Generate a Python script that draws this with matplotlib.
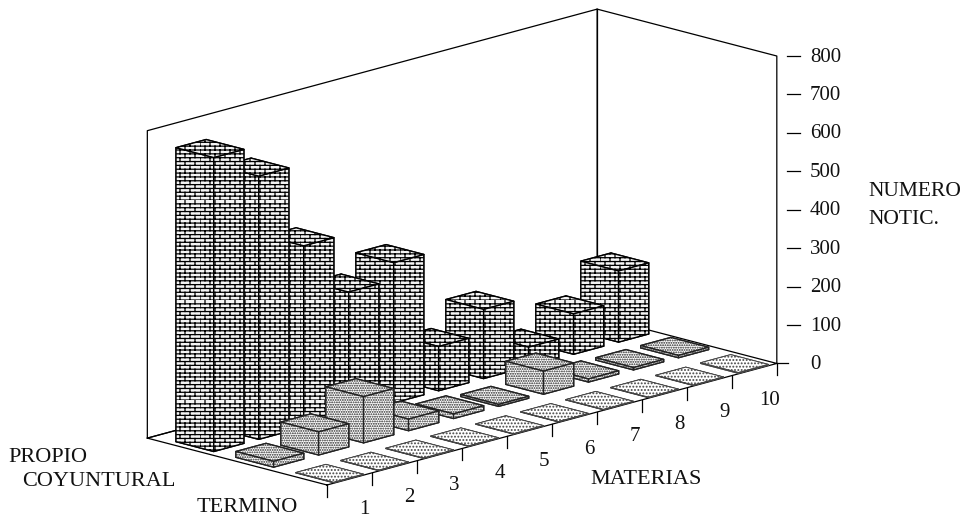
import warnings
import numpy as np
import matplotlib
matplotlib.use('Agg')
import matplotlib.pyplot as plt
from matplotlib import hatch as mhatch
from matplotlib.lines import Line2D
from matplotlib.path import Path
from matplotlib.transforms import IdentityTransform
from mpl_toolkits.mplot3d import proj3d

warnings.filterwarnings("ignore")

W, H = 969, 519

# datos
materias = [1, 2, 3, 4, 5, 6, 7, 8, 9, 10]
terminos = ['TERMINO', 'COYUNTURAL', 'PROPIO']
valores_termino = [1, 1, 1, 1, 1, 1, 1, 1, 1, 2]
valores_coyuntural = [15, 60, 120, 30, 12, 5, 60, 8, 6, 6]
valores_propio = [765, 685, 472, 320, 365, 115, 180, 50, 105, 185]
z_ticks = [0, 100, 200, 300, 400, 500, 600, 700, 800]


class Ladrillos(mhatch.HatchPatternBase):
    # trama de ladrillos, 'b' en la cadena de hatch
    filas, cols = 26, 10

    def __init__(self, hatch, density):
        self.activo = 'b' in hatch
        self.num_vertices = (self.filas + self.filas * self.cols) * 2 if self.activo else 0

    def set_vertices_and_codes(self, vertices, codes):
        if not self.activo:
            return
        segs = []
        for f in range(self.filas):
            y0 = f / self.filas
            y1 = (f + 1) / self.filas
            segs.append(((0, y0), (1, y0)))
            off = 0.5 / self.cols if f % 2 else 0
            for c in range(self.cols):
                x = c / self.cols + off
                segs.append(((x, y0), (x, y1)))
        vertices[:] = np.array(segs).reshape(-1, 2)
        codes[0::2] = Path.MOVETO
        codes[1::2] = Path.LINETO


mhatch._hatch_types.append(Ladrillos)

plt.rcParams['font.family'] = ['Liberation Serif', 'DejaVu Serif']
plt.rcParams['hatch.linewidth'] = 0.9
plt.rcParams['hatch.color'] = 'black'

fig = plt.figure(figsize=(W / 100, H / 100), dpi=100)
ax = fig.add_axes([0, 0, 1, W / H], projection='3d', proj_type='ortho', computed_zorder=False)
ax.view_init(elev=15.4, azim=-135.5)
ax.set_box_aspect((642, 252, 319), zoom=0.761)
ax.set_axis_off()
ax.patch.set_alpha(0)
ax.set_xlim(0, 10)
ax.set_ylim(0, 3)
ax.set_zlim(0, 800)


def a_px(x, y, z):
    xp, yp, _ = proj3d.proj_transform(x, y, z, ax.get_proj())
    px, py = ax.transData.transform((xp, yp))
    return px, H - py


# llevar la esquina frontal del suelo a su sitio
px0, py0 = a_px(0, 0, 0)
pos = ax.get_position()
ax.set_position([(327 - px0) / W, pos.y0 + (py0 - 485) / H, pos.width, pos.height])

# paredes y suelo
negro = dict(color='black', lw=0.9)
for xs, ys, zs in [([0, 10, 10, 0, 0], [3, 3, 3, 3, 3], [0, 0, 800, 800, 0]),
                   ([10, 10, 10], [3, 0, 0], [800, 800, 0]),
                   ([10, 10], [3, 3], [0, 800]),
                   ([0, 10, 10, 0, 0], [0, 0, 3, 3, 0], [0, 0, 0, 0, 0])]:
    ax.plot(xs, ys, zs, **negro)

# marcas del eje de materias
for k in range(11):
    ax.plot([k, k], [0, 0], [0, -31], **negro)

# barras, de atras hacia delante
ancho, fondo = 0.67, 0.63
series = [(2, valores_propio, 'b', '#f4f4f4', 1.0, 'black'),
          (1, valores_coyuntural, '.......', 'white', 1.0, '#222222'),
          (0, valores_termino, '.....', 'white', 0.7, '#444444')]
for fila, valores, trama, fondo_color, grosor, borde in series:
    for i in range(len(materias) - 1, -1, -1):
        ax.bar3d(i + 0.5 - ancho / 2, fila + 0.33 - fondo / 2, 0, ancho, fondo, valores[i],
                 color=fondo_color, edgecolor=borde, linewidth=grosor, hatch=trama,
                 shade=False, zorder=5)

# etiquetas en pixeles de la imagen
def texto(x, y, s, size=15, ha='left'):
    fig.text(x / W, 1 - y / H, s, fontsize=size, ha=ha, va='center', color='#111111')


for k, m in enumerate(materias):
    x, y = a_px(k + 0.5, 0, 0)
    texto(x + 15, y + 31, str(m), ha='center')

for v in z_ticks:
    x, y = a_px(10, 0, v)
    x0 = x if v == 0 else x + 10
    fig.add_artist(Line2D([x0, x + 23 if v else x + 11], [H - y, H - y], color='black',
                          lw=0.9, transform=IdentityTransform()))
    texto(x + 33, y + 1, str(v))

texto(8, 457, terminos[2], 16)
texto(22, 482, terminos[1], 16)
texto(197, 507, terminos[0], 16)
texto(590, 480, 'MATERIAS', 16)
texto(868, 192, 'NUMERO', 15.5)
texto(868, 219, 'NOTIC.', 15.5)

fig.savefig('out.png', dpi=100)
